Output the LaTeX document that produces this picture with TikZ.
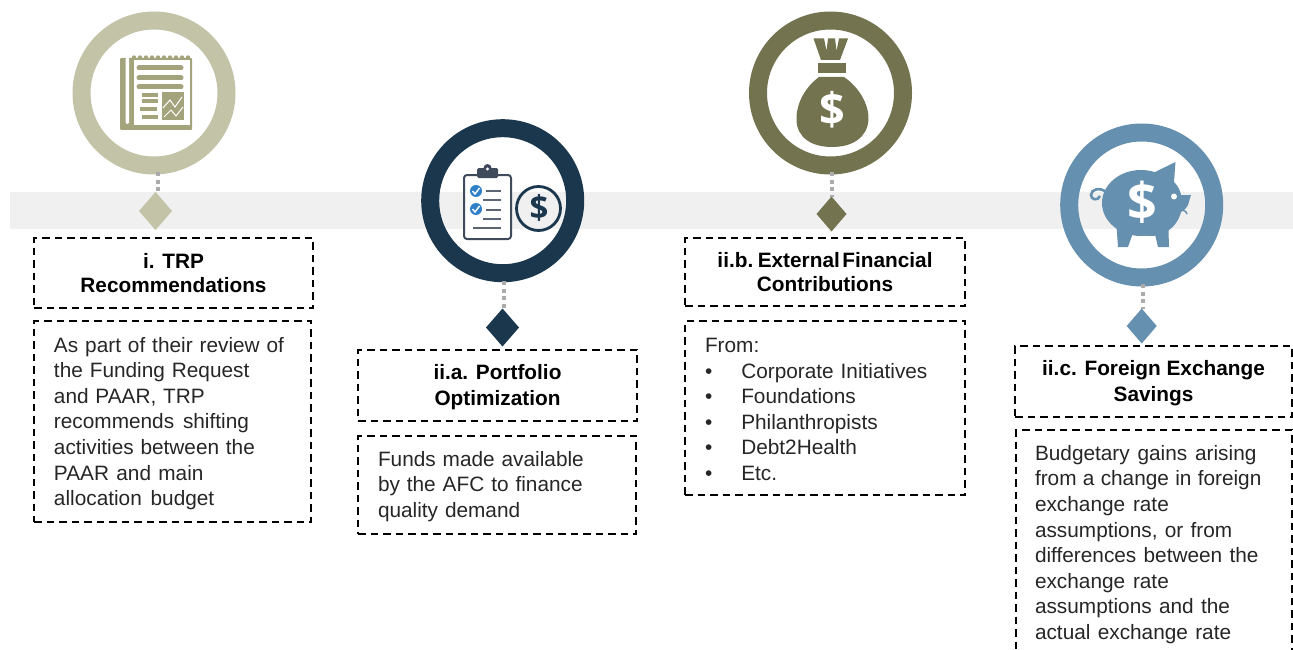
\documentclass[tikz,border=0pt]{standalone}
\usepackage{fontspec}
\setmainfont{Liberation Sans}
\newfontfamily\dollarfont{Open Sans}
\usetikzlibrary{shapes.geometric}
\definecolor{sage}{HTML}{C3C3A7}
\definecolor{sagedk}{HTML}{A3A37C}
\definecolor{navy}{HTML}{1A374D}
\definecolor{olive}{HTML}{737350}
\definecolor{steel}{HTML}{6690B0}
\definecolor{band}{HTML}{F0F0F0}
\definecolor{slate}{HTML}{3F4A5A}
\definecolor{tick}{HTML}{2F80C8}
\definecolor{dotgrey}{HTML}{ABABAB}
\definecolor{bodyink}{HTML}{262626}
\newcommand\nudgetop[1]{\rule{0pt}{#1pt}}
\newcommand\gapped[2]{{\spaceskip=#1pt\relax #2}}
\tikzset{
 x=1pt,y=-1pt,
 ring/.style={circle,draw=#1,line width=18pt,fill=none,minimum size=145pt,inner sep=0pt},
 gem/.style={diamond,fill=#1,draw=none,aspect=0.85,inner sep=0pt,outer sep=0pt},
 dots/.style={draw=dotgrey,line width=4pt,dash pattern=on 4pt off 3.7pt},
 headbox/.style={draw=black,line width=1.9pt,outer sep=0pt,dash pattern=on 7.5pt off 5pt,anchor=north west,align=center,font=\fontsize{20.8}{25.6}\selectfont\bfseries,inner sep=0pt},
 bodybox/.style={draw=black,text=bodyink,line width=1.9pt,outer sep=0pt,dash pattern=on 7.5pt off 5pt,anchor=north west,align=left,font=\fontsize{20.8}{25.6}\selectfont,inner sep=0pt},
 bucks/.style={font=\dollarfont\bfseries\fontsize{#1}{#1}\selectfont,inner sep=0pt},
}
\begin{document}
\begin{tikzpicture}
\useasboundingbox (0,0) rectangle (1293,650);
\clip (0,0) rectangle (1293,650);
\fill[band] (10,192) rectangle (1293,229);

% rings
\node[ring=sage] (r1) at (154,93) {};
\node[ring=navy] (r2) at (502.7,200.7) {};
\node[ring=olive] (r3) at (830.5,93) {};
\node[ring=steel] (r4) at (1141.7,205) {};
% diamonds
\node[gem=sage,minimum width=33pt,minimum height=38pt] (d1) at (155.5,211) {};
\node[gem=navy,minimum width=33pt,minimum height=38pt] (d2) at (502.5,327.5) {};
\node[gem=olive,minimum width=30pt,minimum height=35pt] (d3) at (831.5,214) {};
\node[gem=steel,minimum width=30pt,minimum height=35pt] (d4) at (1141.7,326) {};
% connectors
\coordinate (c1) at (158,172);
\coordinate (c2) at (504,281);
\coordinate (c3) at (831.5,172);
\coordinate (c4) at (1143,284);
\draw[dots] (c1) -- (c1 |- d1.north);
\draw[dots] (c2) -- (c2 |- d2.north);
\draw[dots] (c3) -- (c3 |- d3.north);
\draw[dots] (c4) -- (c4 |- d4.north);

% headers
\node[headbox,minimum width=279pt,minimum height=70pt] (h1) at (34,238) {i. TRP\\[-1pt]Recommendations};
\node[headbox,minimum width=279pt,minimum height=71pt] (h2) at (358,350) {\nudgetop{18}ii.a. Portfolio\\Optimization};
\node[headbox,minimum width=280pt,minimum height=68pt] (h3) at (685,238) {ii.b.\hspace{4.5pt}External\hspace{2.5pt}Financial\\[-1.5pt]Contributions};
\node[headbox,minimum width=277pt,minimum height=71pt] (h4) at (1015,346) {\nudgetop{19}ii.c. Foreign Exchange\\Savings};
% bodies
\node[bodybox,minimum width=277pt,minimum height=201pt,text width=277pt] (b1) at (34,321) {\hspace*{20pt}\nudgetop{19}As part of their review of\\\hspace*{20pt}the Funding Request\\\hspace*{20pt}\gapped{6.8}{and PAAR, TRP}\\\hspace*{20pt}\gapped{8.8}{recommends shifting}\\\hspace*{20pt}\gapped{6.8}{activities between the}\\\hspace*{20pt}\gapped{7.3}{PAAR and main}\\\hspace*{20pt}\gapped{8.8}{allocation budget}};
\node[bodybox,minimum width=278pt,minimum height=98pt,text width=278pt] (b2) at (358,436) {\hspace*{20pt}\nudgetop{18}Funds made available\\\hspace*{20pt}by the AFC to finance\\\hspace*{20pt}quality demand};
\node[bodybox,minimum width=280pt,minimum height=174pt,text width=280pt] (b3) at (685,321) {\hspace*{20pt}\nudgetop{17}From:\\\hspace*{20pt}•\hspace*{29pt}Corporate Initiatives\\\hspace*{20pt}•\hspace*{29pt}Foundations\\\hspace*{20pt}•\hspace*{29pt}Philanthropists\\\hspace*{20pt}•\hspace*{29pt}Debt2Health\\\hspace*{20pt}•\hspace*{29pt}Etc.};
\node[bodybox,minimum width=276pt,minimum height=224pt,text width=276pt] (b4) at (1016,430) {\hspace*{19pt}\nudgetop{20}\gapped{7.8}{Budgetary gains arising}\\\hspace*{19pt}\gapped{6.3}{from a change in foreign}\\\hspace*{19pt}\gapped{7.8}{exchange rate}\\\hspace*{19pt}\gapped{7.3}{assumptions, or from}\\\hspace*{19pt}\gapped{7.3}{differences between the}\\\hspace*{19pt}\gapped{7.8}{exchange rate}\\\hspace*{19pt}\gapped{7.3}{assumptions and the}\\\hspace*{19pt}\gapped{7.3}{actual exchange rate}};

% icon 1: newspaper
\fill[sagedk,rounded corners=1pt] (120,58) -- (192,58) -- (192,130) -- (120,130) -- cycle;
\foreach \x in {134,140,...,190}{\fill[sagedk] (\x,57.5) circle (2.2pt);}
\fill[white] (133.5,60.5) -- (190,60.5) -- (190,125.5) -- (133.5,125.5) -- cycle;
\fill[white,rounded corners=1.5pt] (125.5,57) rectangle (129,124);
\foreach \a/\b/\c in {139/181/68,139/181/78,139/181/87}{\draw[sagedk,line width=5pt,line cap=round] (\a,\c) -- (\b,\c);}
\foreach \a/\b/\c in {142/158/95,142/158/101,140/157/109,142/158/117}{\draw[sagedk,line width=3.5pt] (\a,\c) -- (\b,\c);}
\fill[sagedk] (162,92) rectangle (184,120);
\draw[white,line width=1pt] (163,108) -- (170,100) -- (175,107) -- (182,97);
\draw[white,line width=1pt] (164,117) -- (171,110) -- (176,116) -- (183,107);

% icon 2: clipboard and coin
\begin{scope}[shift={(410,110)}]
\fill[white,draw=slate,line width=2pt,rounded corners=3pt] (54,65) rectangle (101,129);
\fill[slate,rounded corners=1.5pt] (67,68) -- (67,58) -- (88,58) -- (88,68) -- cycle;
\fill[slate] (77.5,58) circle (4pt);
\fill[white] (77.5,59) circle (1.6pt);
\foreach \y in {81,99}{
 \fill[tick] (66,\y) circle (6pt);
 \draw[white,line width=1.4pt] (62.5,\y) -- (65,{\y+3}) -- (69.5,{\y-3});
}
\foreach \a/\b/\c in {76/91/81,73/91/90,76/91/99.5,73/91/108.5,63/91/117.5}{\draw[slate!85,line width=2pt] (\a,\c) -- (\b,\c);}
\draw[navy,line width=2.8pt] (128.5,98.5) circle (22pt);
\node[bucks=33,text=navy] (dl2) at (129,98) {\$};
\end{scope}

% icon 3: money bag
\begin{scope}[shift={(740,0)}]
\fill[olive] (73.5,38.5) -- (84,38.5) -- (86.5,51) -- (88,38.5) -- (95,38.5) -- (96.5,51) -- (99,38.5) -- (108,38.5) -- (100,60) -- (81,60) -- cycle;
\fill[olive] (78,63) rectangle (105.5,73.5);
\fill[olive] (79,77) -- (104,77) .. controls (120,88) and (129,105) .. (128.5,120) .. controls (127,138) and (112,147) .. (92,147) .. controls (72,147) and (57,138) .. (56.5,120) .. controls (56,105) and (64,88) .. (79,77) -- cycle;
\node[bucks=45,text=white] (dl3) at (92,110) {\$};
\end{scope}

% icon 4: piggy bank
\begin{scope}[shift={(1050,120)}]
\fill[steel] (91,83) ellipse [x radius=39pt,y radius=33pt];
\fill[steel] (101,84) ellipse [x radius=31pt,y radius=32pt];
\fill[steel] (105,52) -- (125.5,42) -- (124,62) .. controls (128,66) and (130,70) .. (131,75) -- (141,75) -- (138,85) .. controls (134,92) and (130,92) .. (124,96) -- (115,112) -- (100,80) -- cycle;
\fill[steel] (66,100) -- (68,127) -- (78,127) -- (84,110) -- cycle;
\fill[steel] (104,110) -- (108,127) -- (119,127) -- (118,95) -- cycle;
\fill[white] (124,76.5) circle (3pt);
\draw[steel,line width=1.5pt] (130,88) -- (136,92) -- (137,94);
\draw[steel,line width=2.6pt] (56,72) .. controls (50,67) and (41,69) .. (41,75) .. controls (41,80) and (48,81) .. (50,76);
\node[bucks=52,text=white] (dl4) at (92,82) {\$};
\end{scope}
\end{tikzpicture}
\end{document}
